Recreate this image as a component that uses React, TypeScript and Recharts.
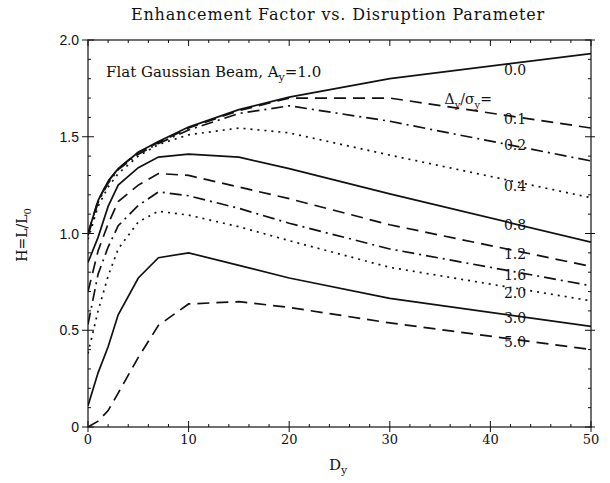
import React from 'react';
import { LineChart, Line, XAxis, YAxis, ReferenceDot } from 'recharts';

// D_y values (x) at which the curves are tabulated
const dy = [0, 1, 2, 3, 5, 7, 10, 15, 20, 30, 50];

// Enhancement factor H for each Δy/σy
const h00 = [1.0, 1.17, 1.27, 1.335, 1.42, 1.475, 1.55, 1.64, 1.705, 1.8, 1.93];
const h01 = [1.0, 1.17, 1.27, 1.335, 1.42, 1.47, 1.545, 1.635, 1.7, 1.7, 1.545];
const h02 = [0.99, 1.16, 1.26, 1.33, 1.41, 1.465, 1.535, 1.62, 1.66, 1.58, 1.375];
const h04 = [0.97, 1.14, 1.24, 1.31, 1.4, 1.46, 1.51, 1.545, 1.52, 1.405, 1.185];
const h08 = [0.85, 0.98, 1.14, 1.25, 1.34, 1.395, 1.41, 1.395, 1.335, 1.205, 0.955];
const h12 = [0.7, 0.91, 1.05, 1.165, 1.25, 1.31, 1.3, 1.24, 1.18, 1.045, 0.83];
const h16 = [0.53, 0.79, 0.93, 1.04, 1.145, 1.215, 1.195, 1.13, 1.053, 0.92, 0.73];
const h20 = [0.38, 0.6, 0.78, 0.92, 1.06, 1.115, 1.095, 1.035, 0.963, 0.825, 0.652];
const h30 = [0.11, 0.28, 0.415, 0.58, 0.77, 0.875, 0.9, 0.835, 0.77, 0.665, 0.52];
const h50 = [0.0, 0.03, 0.085, 0.175, 0.36, 0.525, 0.636, 0.648, 0.618, 0.538, 0.4];

const seriesKeys = ['0.0', '0.1', '0.2', '0.4', '0.8', '1.2', '1.6', '2.0', '3.0', '5.0'];
const seriesValues = [h00, h01, h02, h04, h08, h12, h16, h20, h30, h50];

// tick values
const xTicks = [0, 2, 4, 6, 8, 10, 12, 14, 16, 18, 20, 22, 24, 26, 28, 30, 32, 34, 36, 38, 40, 42, 44, 46, 48, 50];
const yTicks = [0, 0.1, 0.2, 0.3, 0.4, 0.5, 0.6, 0.7, 0.8, 0.9, 1.0, 1.1, 1.2, 1.3, 1.4, 1.5, 1.6, 1.7, 1.8, 1.9, 2.0];

// curve label anchors (D_y, H)
const labelX = 42.45;
const labelY = [1.845, 1.592, 1.457, 1.245, 1.044, 0.894, 0.786, 0.693, 0.563, 0.439];

const data = dy.map((x, i) => {
  const row: Record<string, number> = { x };
  seriesKeys.forEach((k, j) => {
    row[k] = seriesValues[j][i];
  });
  return row;
});

const dashes = ['', '12 7', '12 5 2 5', '2 5', '', '12 7', '12 5 2 5', '2 5', '', '12 7'];

const SERIF = '"DejaVu Serif", "Liberation Serif", serif';
const SANS = '"Liberation Sans", Arial, sans-serif';
const INK = '#111';

const isMajorX = (v: number) => Math.round(v) % 10 === 0;
const isMajorY = (v: number) => Math.round(v * 10) % 5 === 0;

// plot frame (used only to anchor tick marks on the axis lines)
const PLOT_TOP = 40;
const PLOT_BOTTOM = 427;
const PLOT_LEFT = 88;
const PLOT_RIGHT = 591;

const BottomTick = (p: any) => {
  const { x, payload } = p;
  const y = PLOT_BOTTOM;
  const v = payload.value;
  const major = isMajorX(v);
  return (
    <g>
      <line x1={x} x2={x} y1={y} y2={y - (major ? 6 : 3)} stroke={INK} strokeWidth={1} />
      {major && <line x1={x} x2={x} y1={y} y2={y + 5} stroke={INK} strokeWidth={1} />}
      {major && (
        <text x={x} y={y + 17} textAnchor="middle" fontFamily={SERIF} fontSize={13} fill={INK}>
          {String(v)}
        </text>
      )}
    </g>
  );
};

const TopTick = (p: any) => {
  const { x, payload } = p;
  const y = PLOT_TOP;
  const major = isMajorX(payload.value);
  return <line x1={x} x2={x} y1={y} y2={y + (major ? 6 : 3)} stroke={INK} strokeWidth={1} />;
};

const LeftTick = (p: any) => {
  const { y, payload } = p;
  const x = PLOT_LEFT;
  const v = payload.value;
  const major = isMajorY(v);
  const label = Math.abs(v) < 1e-9 ? '0' : v.toFixed(1);
  return (
    <g>
      <line x1={x} x2={x + (major ? 6 : 3)} y1={y} y2={y} stroke={INK} strokeWidth={1} />
      {major && <line x1={x} x2={x - 6} y1={y} y2={y} stroke={INK} strokeWidth={1} />}
      {major && (
        <text x={x - 9} y={y + 5} textAnchor="end" fontFamily={SANS} fontSize={14} fill={INK}>
          {label}
        </text>
      )}
    </g>
  );
};

const RightTick = (p: any) => {
  const { y, payload } = p;
  const x = PLOT_RIGHT;
  const major = isMajorY(payload.value);
  return (
    <g>
      <line x1={x} x2={x - (major ? 6 : 3)} y1={y} y2={y} stroke={INK} strokeWidth={1} />
      {major && <line x1={x} x2={x + 4} y1={y} y2={y} stroke={INK} strokeWidth={1} />}
    </g>
  );
};

const CurveLabel = (text: string) => (p: any) => {
  const vb = p.viewBox || {};
  const cx = vb.x + (vb.width || 0) / 2;
  const cy = vb.y + (vb.height || 0) / 2;
  return (
    <text x={cx} y={cy + 5} textAnchor="middle" fontFamily={SERIF} fontSize={14} fill={INK}>
      {text}
    </text>
  );
};

const RatioLabel = (p: any) => {
  const vb = p.viewBox || {};
  const cx = vb.x + (vb.width || 0) / 2;
  const cy = vb.y + (vb.height || 0) / 2;
  return (
    <text x={cx} y={cy + 4} textAnchor="middle" fontFamily={SERIF} fontSize={14} fill={INK}>
      Δ<tspan dy={4} fontSize={10}>y</tspan>
      <tspan dy={-4}>/σ</tspan>
      <tspan dy={4} fontSize={10}>y</tspan>
      <tspan dy={-4}>=</tspan>
    </text>
  );
};

export default function App() {
  return (
    <div style={{ position: 'absolute', left: 0, top: 0, width: 610, height: 483, background: '#fff' }}>
      <LineChart width={610} height={483} data={data} margin={{ top: 39, right: 18, bottom: 55, left: 87 }}>
        <XAxis
          dataKey="x"
          type="number"
          domain={[0, 50]}
          ticks={xTicks}
          interval={0}
          height={1}
          tickSize={0}
          tickMargin={0}
          tickLine={false}
          axisLine={false}
          tick={BottomTick}
          allowDataOverflow
        />
        <XAxis
          xAxisId="top"
          orientation="top"
          dataKey="x"
          type="number"
          domain={[0, 50]}
          ticks={xTicks}
          interval={0}
          height={1}
          tickSize={0}
          tickMargin={0}
          tickLine={false}
          axisLine={false}
          tick={TopTick}
          allowDataOverflow
        />
        <YAxis
          type="number"
          domain={[0, 2]}
          ticks={yTicks}
          interval={0}
          width={1}
          tickSize={0}
          tickMargin={0}
          tickLine={false}
          axisLine={false}
          tick={LeftTick}
          allowDataOverflow
        />
        <YAxis
          yAxisId="right"
          orientation="right"
          type="number"
          domain={[0, 2]}
          ticks={yTicks}
          interval={0}
          width={1}
          tickSize={0}
          tickMargin={0}
          tickLine={false}
          axisLine={false}
          tick={RightTick}
          allowDataOverflow
        />
        {seriesKeys.map((k, i) => (
          <Line
            key={k}
            type="linear"
            dataKey={k}
            stroke={INK}
            strokeWidth={1.7}
            strokeDasharray={dashes[i] || undefined}
            dot={false}
            activeDot={false}
            isAnimationActive={false}
          />
        ))}
        {seriesKeys.map((k, i) => (
          <ReferenceDot
            key={'lbl' + k}
            x={labelX}
            y={labelY[i]}
            r={1}
            fill="none"
            stroke="none"
            label={{ content: CurveLabel(k) }}
          />
        ))}
        <ReferenceDot x={37.8} y={1.69} r={1} fill="none" stroke="none" label={{ content: RatioLabel }} />
      </LineChart>
      <svg width={610} height={483} style={{ position: 'absolute', left: 0, top: 0, pointerEvents: 'none' }}>
        <rect x={PLOT_LEFT} y={PLOT_TOP} width={PLOT_RIGHT - PLOT_LEFT} height={PLOT_BOTTOM - PLOT_TOP} fill="none" stroke={INK} strokeWidth={1.2} />
        <text x={338} y={20} textAnchor="middle" fontFamily={SERIF} fontSize={16} letterSpacing={0.85} fill={INK}>
          Enhancement Factor vs. Disruption Parameter
        </text>
        <text x={106} y={77} fontFamily={SERIF} fontSize={15} fill={INK}>
          Flat Gaussian Beam, A<tspan dy={4} fontSize={11}>y</tspan>
          <tspan dy={-4}>=1.0</tspan>
        </text>
        <text x={338} y={470} textAnchor="middle" fontFamily={SERIF} fontSize={15} fill={INK}>
          D<tspan dy={4} fontSize={11}>y</tspan>
        </text>
        <text transform="translate(27,235) rotate(-90)" textAnchor="middle" fontFamily={SERIF} fontSize={14} fill={INK}>
          H=L/L<tspan dy={4} fontSize={10}>0</tspan>
        </text>
      </svg>
    </div>
  );
}
